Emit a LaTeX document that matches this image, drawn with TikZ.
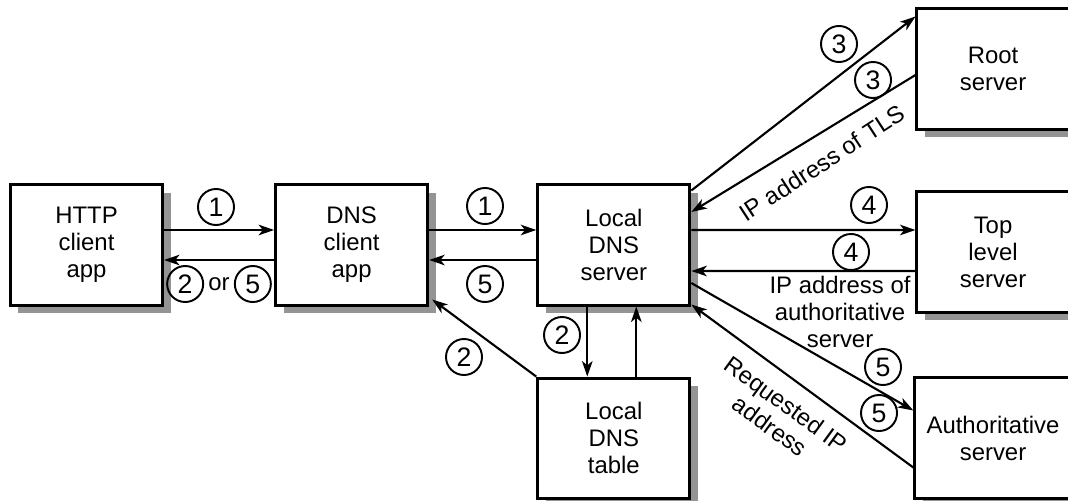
\documentclass[tikz,border=0pt]{standalone}
\usepackage{fontspec}
\setmainfont{Liberation Sans}
\usetikzlibrary{arrows.meta, positioning, shadows}

\tikzset{
  box/.style={rectangle, draw, line width=0.85pt, fill=white, align=center,
    minimum width=1.52cm, minimum height=1.2cm,
    general shadow={fill=black!42, shadow xshift=0.08cm, shadow yshift=-0.08cm}},
  num/.style={circle, draw, line width=0.55pt, minimum size=0.36cm, inner sep=0pt,
    font=\fontsize{7.6}{8}\selectfont},
  link/.style={-{Stealth[length=4.4pt, width=3pt, inset=1.2pt]}, line width=0.6pt},
}

\begin{document}
\begin{tikzpicture}[x=0.01cm, y=-0.01cm, font=\fontsize{6.8}{7.7}\selectfont]
    \useasboundingbox (0,0) rectangle (1068,500);
    \clip (0,0) rectangle (1068,500);

    \node (http) [box] at (86.5,245) {HTTP\\client\\app};
    \node (dnsc) [box, right=1.1cm of http] {DNS\\client\\app};
    \node (local) [box, right=1.07cm of dnsc] {Local\\DNS\\server};
    \node (table) [box, below=0.7cm of local] {Local\\DNS\\table};
    \node (root) [box] at (993,69) {Root\\server};
    \node (top) [box] at (993,252) {Top\\level\\server};
    \node (auth) [box] at (993,438) {Authoritative\\server};

    \draw [link] ([yshift=1.5mm]http.east) -- ([yshift=1.5mm]dnsc.west);
    \draw [link] ([yshift=-1.5mm]dnsc.west) -- ([yshift=-1.5mm]http.east);
    \draw [link] ([yshift=1.5mm]dnsc.east) -- ([yshift=1.5mm]local.west);
    \draw [link] ([yshift=-1.5mm]local.west) -- ([yshift=-1.5mm]dnsc.east);

    \draw [link] ([yshift=-0.07cm]local.north east) -- ([yshift=-0.09cm]root.north west);
    \draw [link] ([yshift=-0.06cm]root.west) -- ([yshift=0.33cm]local.east);
    \draw [link] ([yshift=1.5mm]local.east) -- ([yshift=2.2mm]top.west);
    \draw [link] ([yshift=-1.9mm]top.west) -- ([yshift=-2.6mm]local.east);
    \draw [link] ([yshift=-3.8mm]local.east) -- ([yshift=2.75mm]auth.west);
    \draw [link] ([yshift=-2.95mm]auth.west) -- ([yshift=0.02cm]local.south east);

    \draw [link] ([xshift=-2.65mm]local.south) -- ([xshift=-2.65mm]table.north);
    \draw [link] ([xshift=2.25mm]table.north) -- ([xshift=2.25mm]local.south);
    \draw [link] (table.north west) -- ([xshift=0.03cm, yshift=0.07cm]dnsc.south east);

    % step numbers
    \node (c1a) [num] at (216,207) {1};
    \node (or) [inner sep=1pt] at (219,284) {or};
    \node (c2or) [num, left=0pt of or] {2};
    \node (c5or) [num, right=0pt of or] {5};
    \node (c1b) [num] at (485,206) {1};
    \node (c5b) [num] at (485,284) {5};
    \node (c2a) [num] at (562,335) {2};
    \node (c2b) [num] at (464,357) {2};
    \node (c3a) [num] at (839,44) {3};
    \node (c3b) [num] at (873,80) {3};
    \node (c4a) [num] at (869,205) {4};
    \node (c4b) [num] at (851,252) {4};
    \node (c5c) [num] at (883,367) {5};
    \node (c5d) [num] at (879,413) {5};

    % reply labels
    \node (tls) [rotate=33] at (822,163) {IP address of TLS};
    \node (authip) [align=center] at (840,312) {IP address of\\authoritative\\server};
    \node (reqip) [rotate=-36, align=center] at (778,415) {Requested IP\\address};
\end{tikzpicture}
\end{document}
